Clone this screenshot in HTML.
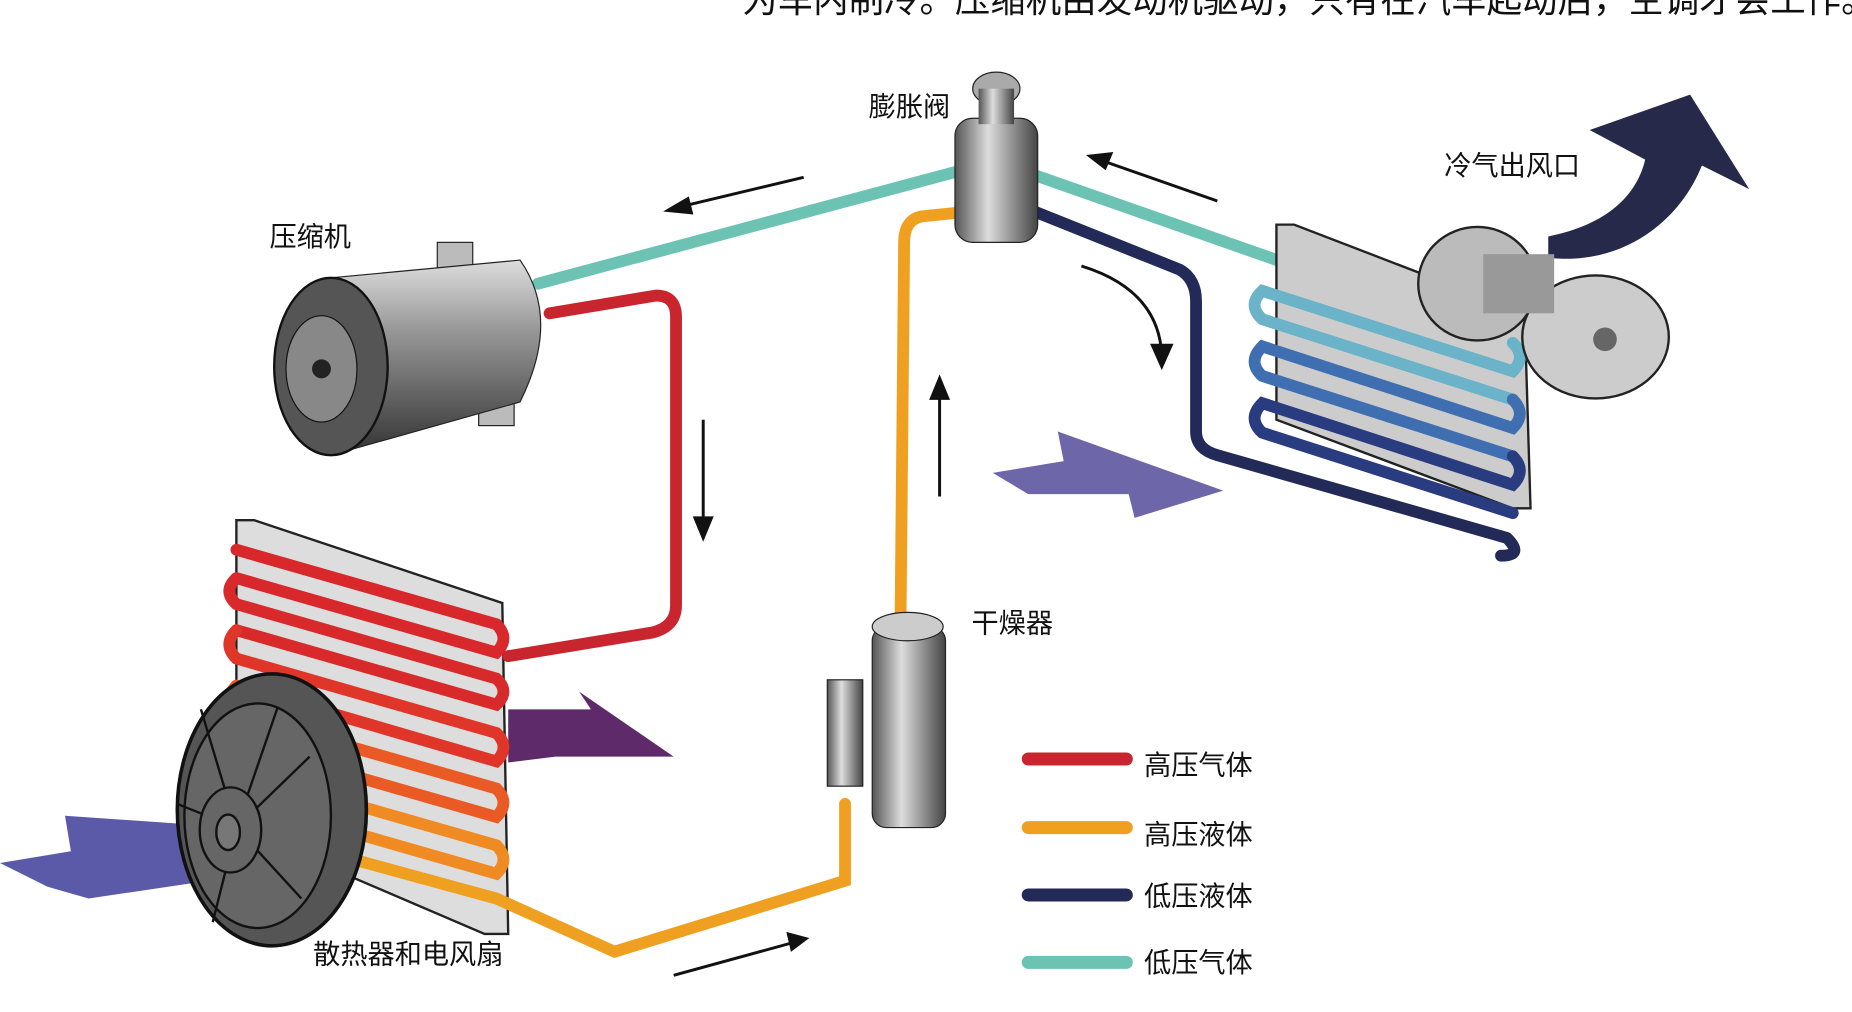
<!DOCTYPE html>
<html><head><meta charset="utf-8"><style>
html,body{margin:0;padding:0;background:#fff;width:1852px;height:1012px;overflow:hidden}
svg{display:block}
text{font-family:"Liberation Sans","Noto Sans CJK SC",sans-serif;fill:#111}
</style></head><body>
<svg width="1852" height="1012" viewBox="0 0 1567 856" preserveAspectRatio="none">
<defs>
<linearGradient id="cyl" x1="0" y1="0" x2="0" y2="1">
<stop offset="0" stop-color="#ddd"/><stop offset="0.35" stop-color="#999"/><stop offset="1" stop-color="#333"/></linearGradient>
<linearGradient id="met" x1="0" y1="0" x2="1" y2="0">
<stop offset="0" stop-color="#555"/><stop offset="0.4" stop-color="#ddd"/><stop offset="1" stop-color="#444"/></linearGradient>
</defs>
<text x="628" y="10" font-size="30">为车内制冷。压缩机由发动机驱动，只有在汽车起动后，空调才会工作。</text>

<!-- big navy outlet arrow -->
<path d="M1310,200 C1360,190 1385,165 1392,135 L1345,110 L1430,80 L1480,160 L1440,140 C1420,190 1370,225 1310,218 Z" fill="#27294a"/>
<!-- purple arrows -->
<path d="M840,400 L900,390 L895,365 L1035,415 L960,438 L955,418 L870,418 Z" fill="#6d66a8"/>
<path d="M0,730 L60,720 L55,690 L200,700 L210,740 L75,760 L40,750 Z" fill="#5a5aa8"/>
<path d="M430,600 L500,600 L490,585 L570,640 L470,640 L430,645 Z" fill="#5e2a6a"/>

<!-- condenser frame -->
<path d="M200,440 L215,440 L425,510 L430,790 L410,790 L200,700 Z" fill="#ddd" stroke="#222" stroke-width="2"/>
<g stroke-width="10" fill="none" stroke-linecap="round">
<path d="M200,465 L420,528 Q432,540 420,552 L200,489" stroke="#d8282c"/>
<path d="M200,489 Q188,500 200,511 L420,574 Q432,585 420,596 L200,533" stroke="#d82a2a"/>
<path d="M200,533 Q188,545 200,557 L420,620 Q432,632 420,644 L200,580" stroke="#e0362a"/>
<path d="M200,580 Q188,592 200,604 L420,667 Q432,679 420,691 L200,628" stroke="#ea5a25"/>
<path d="M200,628 Q188,640 200,652 L420,715 Q432,727 420,739 L200,676" stroke="#f08a22"/>
<path d="M200,676 Q188,688 200,700 L420,760 L520,805 L715,745 L715,680" stroke="#f0a020"/>
</g>
<!-- fan -->
<ellipse cx="230" cy="685" rx="80" ry="115" fill="#555" stroke="#111" stroke-width="3"/>
<ellipse cx="218" cy="690" rx="62" ry="95" fill="#666" stroke="#111" stroke-width="2"/>
<g stroke="#111" stroke-width="2"><line x1="200" y1="700" x2="170" y2="600"/><line x1="200" y1="700" x2="150" y2="680"/><line x1="200" y1="700" x2="180" y2="780"/><line x1="200" y1="700" x2="255" y2="760"/><line x1="200" y1="700" x2="262" y2="640"/><line x1="200" y1="700" x2="235" y2="598"/></g>
<ellipse cx="195" cy="702" rx="26" ry="36" fill="#666" stroke="#111" stroke-width="2"/>
<ellipse cx="193" cy="704" rx="10" ry="15" fill="#777" stroke="#111" stroke-width="2"/>

<!-- pipes -->
<g fill="none" stroke-width="10" stroke-linejoin="round" stroke-linecap="round">
<path d="M455,240 L810,145" stroke="#6cc3b4"/>
<path d="M465,265 L555,250 Q572,250 572,268 L572,512 Q572,530 552,535 L430,555" stroke="#c8252e"/>
<path d="M810,180 L780,183 Q765,186 765,205 L762,520" stroke="#f0a020"/>
<path d="M875,148 L1280,290" stroke="#6cc3b4"/>
<path d="M878,180 L998,228 Q1012,236 1012,255 L1012,365 Q1012,380 1030,385 L1275,455 Q1290,470 1270,470" stroke="#232a58"/>
</g>
<!-- evaporator -->
<path d="M1080,190 L1095,190 L1290,265 L1295,430 L1280,430 L1080,355 Z" fill="#ccc" stroke="#222" stroke-width="2"/>
<g fill="none" stroke-width="10" stroke-linecap="round">
<path d="M1280,290 Q1292,302 1280,314 L1068,246 Q1055,258 1068,270 L1280,338" stroke="#6ab3c8"/>
<path d="M1280,338 Q1292,350 1280,362 L1068,293 Q1055,306 1068,318 L1280,386" stroke="#3f6fb0"/>
<path d="M1280,386 Q1292,398 1280,410 L1068,341 Q1055,354 1068,366 L1280,434" stroke="#2a3c80"/>
</g>
<!-- blower -->
<ellipse cx="1350" cy="285" rx="62" ry="52" fill="#ccc" stroke="#222" stroke-width="2"/>
<ellipse cx="1250" cy="240" rx="50" ry="48" fill="#bbb" stroke="#222" stroke-width="2"/>
<rect x="1255" y="215" width="60" height="50" fill="#999"/>
<ellipse cx="1358" cy="287" rx="10" ry="10" fill="#666"/>

<!-- compressor -->
<rect x="370" y="205" width="30" height="22" fill="#bbb" stroke="#222"/>
<rect x="405" y="335" width="30" height="25" fill="#bbb" stroke="#222"/>
<path d="M280,235 L440,220 Q475,270 440,340 L280,385 Z" fill="url(#cyl)" stroke="#222"/>
<ellipse cx="280" cy="310" rx="48" ry="75" fill="#555" stroke="#111" stroke-width="2"/>
<ellipse cx="272" cy="312" rx="30" ry="45" fill="#888" stroke="#111"/>
<circle cx="272" cy="312" r="8" fill="#222"/>

<!-- valve -->
<rect x="808" y="100" width="70" height="105" rx="15" fill="url(#met)" stroke="#222"/>
<ellipse cx="843" cy="75" rx="20" ry="14" fill="#aaa" stroke="#222"/>
<rect x="828" y="75" width="30" height="30" fill="url(#met)"/>
<!-- drier -->
<rect x="738" y="530" width="62" height="170" rx="12" fill="url(#met)" stroke="#222"/>
<rect x="700" y="575" width="30" height="90" fill="url(#met)" stroke="#222"/>
<ellipse cx="768" cy="530" rx="30" ry="12" fill="#ccc" stroke="#222"/>

<!-- small arrows -->
<g stroke="#111" stroke-width="2.5" fill="#111">
<line x1="680" y1="150" x2="575" y2="175"/><path d="M565,178 L582,168 L585,180 Z"/>
<line x1="1030" y1="170" x2="930" y2="135"/><path d="M922,132 L940,130 L935,142 Z"/>
<path d="M915,225 Q980,245 983,300" fill="none"/><path d="M983,310 L975,292 L991,292 Z"/>
<line x1="595" y1="355" x2="595" y2="445"/><path d="M595,455 L588,438 L602,438 Z"/>
<line x1="795" y1="420" x2="795" y2="330"/><path d="M795,320 L788,337 L802,337 Z"/>
<line x1="570" y1="825" x2="672" y2="797"/><path d="M682,794 L667,790 L670,803 Z"/>
</g>

<!-- legend -->
<g stroke-width="11" stroke-linecap="round">
<line x1="870" y1="642" x2="953" y2="642" stroke="#c8252e"/>
<line x1="870" y1="700" x2="953" y2="700" stroke="#f0a020"/>
<line x1="870" y1="757" x2="953" y2="757" stroke="#232a58"/>
<line x1="870" y1="814" x2="953" y2="814" stroke="#6cc3b4"/>
</g>
<g font-size="23">
<text x="968" y="655">高压气体</text>
<text x="968" y="714">高压液体</text>
<text x="968" y="766">低压液体</text>
<text x="968" y="822">低压气体</text>
<text x="735" y="98">膨胀阀</text>
<text x="228" y="208">压缩机</text>
<text x="1222" y="148">冷气出风口</text>
<text x="822" y="535">干燥器</text>
<text x="265" y="815">散热器和电风扇</text>
</g>
</svg>
</body></html>
